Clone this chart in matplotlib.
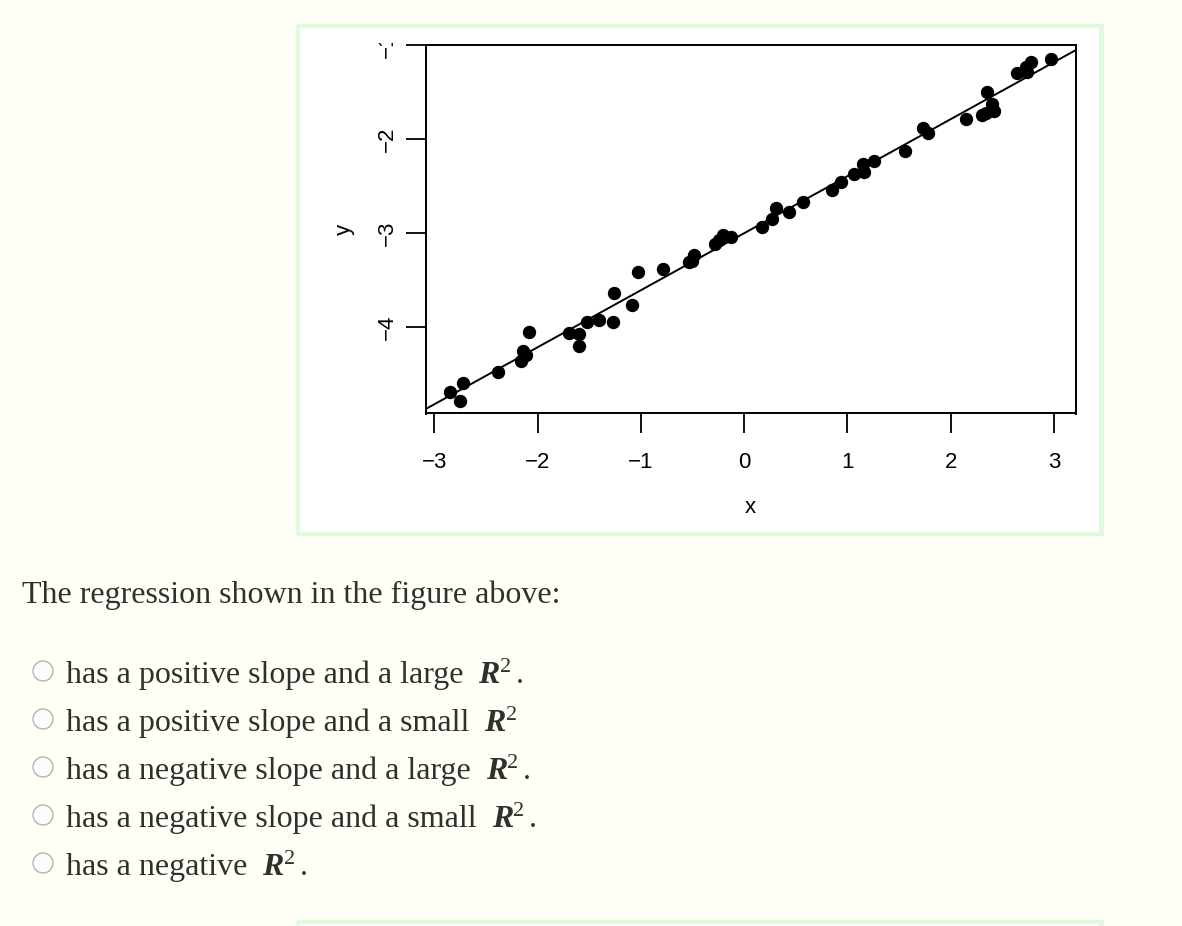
import numpy as np
import matplotlib
matplotlib.use("Agg")
import matplotlib.pyplot as plt
from matplotlib.patches import Rectangle, Circle

# scatter data
x_vals = [-2.85, -2.725, -2.748, -2.38, -2.163, -2.143, -2.11, -2.08, -1.70, -1.60,
          -1.598, -1.517, -1.404, -1.265, -1.256, -1.084, -1.03, -0.787, -0.529, -0.506,
          -0.49, -0.28, -0.248, -0.205, -0.128, 0.172, 0.27, 0.311, 0.437, 0.57,
          0.851, 0.941, 1.067, 1.157, 1.147, 1.254, 1.554, 1.732, 1.777, 2.152,
          2.304, 2.346, 2.417, 2.40, 2.352, 2.643, 2.74, 2.724, 2.78, 2.966]
y_vals = [-4.69, -4.59, -4.78, -4.47, -4.36, -4.25, -4.29, -4.05, -4.06, -4.07,
          -4.20, -3.94, -3.92, -3.94, -3.63, -3.76, -3.41, -3.38, -3.30, -3.29,
          -3.23, -3.11, -3.07, -3.02, -3.04, -2.93, -2.85, -2.73, -2.77, -2.67,
          -2.54, -2.45, -2.37, -2.35, -2.26, -2.23, -2.12, -1.88, -1.93, -1.78,
          -1.745, -1.72, -1.70, -1.62, -1.50, -1.29, -1.285, -1.23, -1.18, -1.14]

x_ticks = [-3, -2, -1, 0, 1, 2, 3]
y_ticks = [-4, -3, -2, -1]

question = "The regression shown in the figure above:"
options = ["has a positive slope and a large",
           "has a positive slope and a small",
           "has a negative slope and a large",
           "has a negative slope and a small",
           "has a negative"]
endings = [".", "", ".", ".", "."]

W, H = 1182, 926
fig = plt.figure(figsize=(W / 100, H / 100), dpi=100, facecolor="#fffff5")

# background layer in pixel coordinates
bg = fig.add_axes([0, 0, 1, 1], zorder=-1)
bg.set_xlim(0, W)
bg.set_ylim(H, 0)
bg.axis("off")

green = "#e0fae0"
bg.add_patch(Rectangle((296, 24), 808, 512, facecolor=green, edgecolor="none"))
bg.add_patch(Rectangle((300, 28), 799, 504, facecolor="white", edgecolor="none"))
bg.add_patch(Rectangle((296, 920), 808, 10, facecolor=green, edgecolor="none"))
bg.add_patch(Rectangle((300, 924), 799, 10, facecolor="white", edgecolor="none"))

# the scatter plot, R style
sans = "Liberation Sans"
left, right, top, bottom = 426, 1075.5, 45.5, 413.5
ax = fig.add_axes([left / W, 1 - bottom / H, (right - left) / W, (bottom - top) / H], zorder=1)
ax.plot(x_vals, y_vals, "o", color="black", ms=8.6, mec="black")
slope, intercept = np.polyfit(x_vals, y_vals, 1)
ax.axline((0, intercept), slope=slope, color="black", lw=1.4)
ax.set_xlim(-3.08, 3.208)
ax.set_ylim(-4.917, -1.006)
ax.set_xticks(x_ticks)
ax.set_yticks(y_ticks)
ax.set_xticklabels([f"\u2212{abs(v)}" if v < 0 else str(v) for v in x_ticks],
                   fontsize=16, fontfamily=sans)
ax.set_yticklabels([f"\u2212{abs(v)}" if v < 0 else str(v) for v in y_ticks],
                   fontsize=16, fontfamily=sans, rotation=90, va="center")
ax.tick_params(axis="both", direction="out", length=14.4, width=1.3)
ax.tick_params(axis="x", pad=13.5)
ax.tick_params(axis="y", pad=6)
for s in ax.spines.values():
    s.set_linewidth(1.4)

bg.text(750.5, 513, "x", fontsize=16, fontfamily=sans, ha="center", va="baseline")
bg.text(344, 229, "y", fontsize=16, fontfamily=sans, ha="center", va="center", rotation=90)

# hide the clipped top of the "-1" label like the cropped original
fig.add_artist(Rectangle((300 / W, 1 - 43.3 / H), 799 / W, 15.3 / H,
                         transform=fig.transFigure, facecolor="white",
                         edgecolor="none", zorder=5))

# question and answer choices
serif = "Liberation Serif"
txt_color = "#303030"
bg.text(22, 603, question, fontsize=23, fontfamily=serif, color=txt_color, va="baseline")

fig.canvas.draw()
renderer = fig.canvas.get_renderer()
for i, (opt, end) in enumerate(zip(options, endings)):
    base = 683 + 48 * i
    bg.add_patch(Circle((43, base - 12), 10, facecolor="#fcfcfc", edgecolor="#b4b4b4", lw=1))
    t = bg.text(66, base, opt, fontsize=23, fontfamily=serif, color=txt_color, va="baseline")
    x_end = t.get_window_extent(renderer).x1
    r = bg.text(x_end + 15, base, "R", fontsize=23, fontfamily=serif, fontweight="bold",
                fontstyle="italic", color=txt_color, va="baseline")
    r_end = r.get_window_extent(renderer).x1
    s2 = bg.text(r_end, base - 11, "2", fontsize=16, fontfamily=serif,
                 color=txt_color, va="baseline")
    if end:
        s_end = s2.get_window_extent(renderer).x1
        bg.text(s_end + 5, base, end, fontsize=23, fontfamily=serif,
                color=txt_color, va="baseline")

fig.savefig("out.png", dpi=100, facecolor=fig.get_facecolor())
